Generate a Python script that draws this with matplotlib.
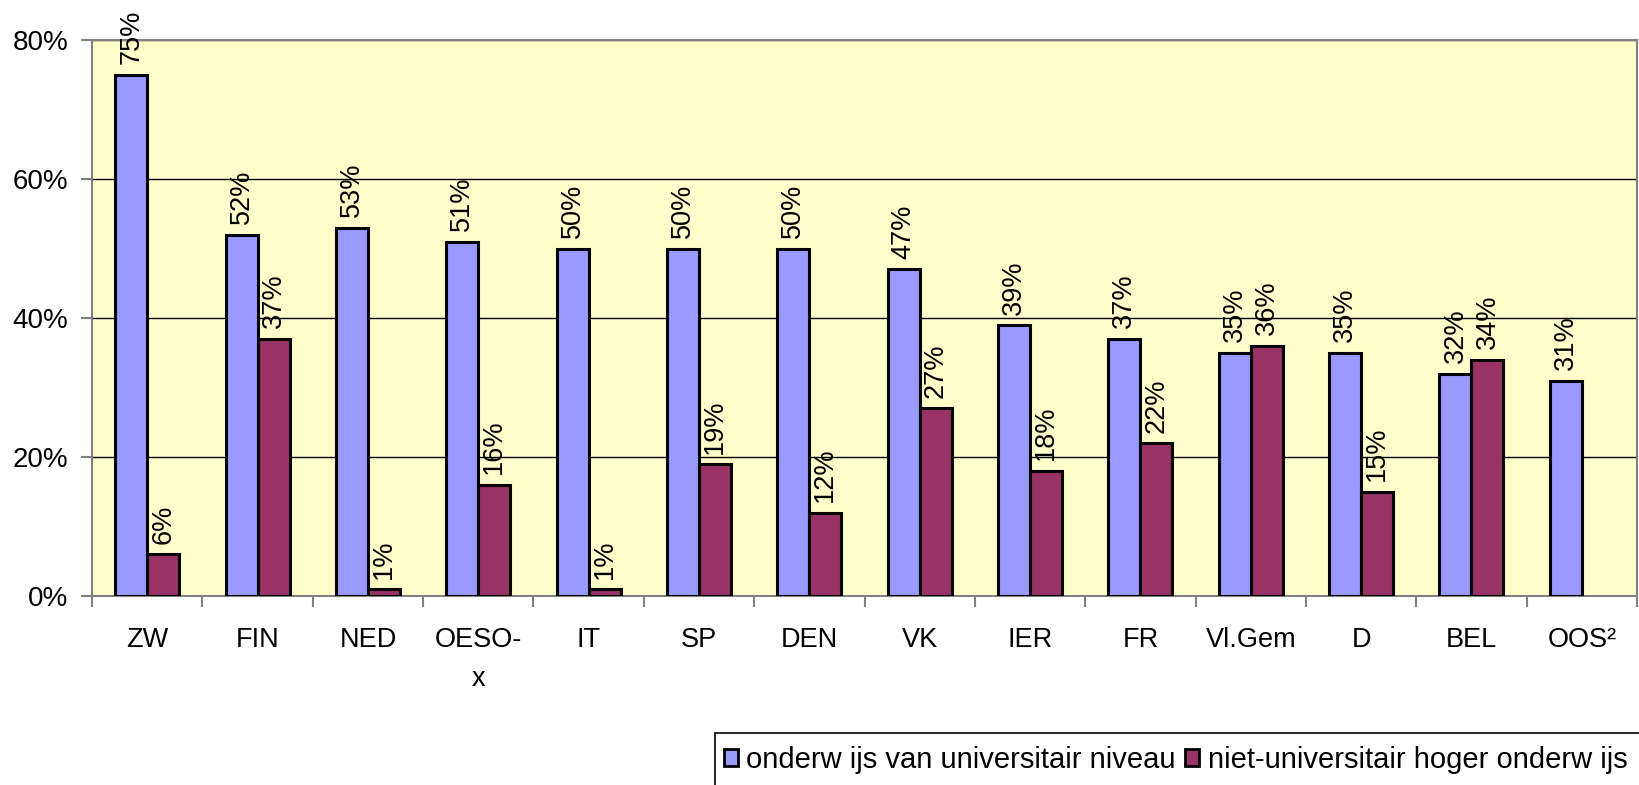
import matplotlib.pyplot as plt
from matplotlib.patches import Rectangle
import numpy as np

plt.rcParams['font.family'] = ['Liberation Sans', 'DejaVu Sans']

# data
categories = ['ZW', 'FIN', 'NED', 'OESO-\nx', 'IT', 'SP', 'DEN', 'VK', 'IER', 'FR',
              'Vl.Gem', 'D', 'BEL', 'OOS²']
universitair = [75, 52, 53, 51, 50, 50, 50, 47, 39, 37, 35, 35, 32, 31]
niet_universitair = [6, 37, 1, 16, 1, 19, 12, 27, 18, 22, 36, 15, 34, None]
series_names = ['onderw ijs van universitair niveau', 'niet-universitair hoger onderw ijs']

W, H = 1639, 785
fig = plt.figure(figsize=(W / 100, H / 100), dpi=100)
ax = fig.add_axes([92 / W, 1 - 596 / H, 1545 / W, 556 / H])
ax.set_facecolor('#FFFFCC')

x = np.arange(len(categories))
w = 0.29
colors = ['#9999FF', '#993366']

for i, (vals, col, name) in enumerate(zip([universitair, niet_universitair], colors, series_names)):
    xs = [xi for xi, v in zip(x, vals) if v is not None]
    vs = [v for v in vals if v is not None]
    pos = np.array(xs) + (i - 0.5) * w
    ax.bar(pos, vs, width=w, color=col, edgecolor='black', linewidth=2.2, label=name, zorder=3)
    for px, v in zip(pos, vs):
        ax.annotate(f'{v}%', (px, v), xytext=(0, 7.5), textcoords='offset points',
                    rotation=90, ha='center', va='bottom', fontsize=19.5, zorder=4)

ax.set_xlim(-0.5, len(categories) - 0.5)
ax.set_ylim(0, 80)
ax.set_yticks([0, 20, 40, 60, 80])
ax.set_yticklabels(['0%', '20%', '40%', '60%', '80%'], fontsize=20)
ax.yaxis.grid(True, color='black', linewidth=1, zorder=0)

ax.set_xticks(x)
ax.set_xticklabels(categories, fontsize=19.5, va='top', linespacing=1.65)
ax.tick_params(axis='x', length=0, pad=22)
ax.set_xticks(np.arange(-0.5, len(categories)), minor=True)
ax.tick_params(axis='x', which='minor', length=8, color='#808080', width=1.5)
ax.tick_params(axis='y', length=8, color='#808080', width=1.5, pad=9)

for s in ['left', 'bottom', 'right', 'top']:
    ax.spines[s].set_color('#808080')
    ax.spines[s].set_linewidth(1.5)

# legend box runs off the bottom/right edge in the original
fig.patches.append(Rectangle((715 / W, -0.05), 1.0, 1 - 733 / H + 0.05,
                             transform=fig.transFigure, facecolor='white',
                             edgecolor='black', linewidth=1.2, zorder=1))
leg = fig.legend(loc='upper left', bbox_to_anchor=(715 / W, 1 - 737 / H), ncol=2,
                 fontsize=21, frameon=False, borderaxespad=0,
                 handlelength=0.48, handleheight=0.48, handletextpad=0.3, columnspacing=0.3,
                 borderpad=0.3)
for h in leg.legend_handles:
    h.set_linewidth(2)

fig.savefig('out.png', dpi=100)
